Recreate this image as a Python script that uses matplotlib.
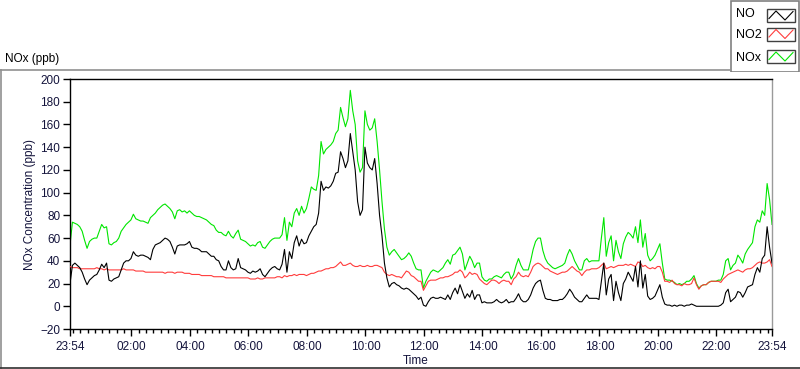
import numpy as np
import pandas as pd
import matplotlib
matplotlib.use("Agg")
import matplotlib.pyplot as plt
import matplotlib.dates as mdates
from matplotlib.lines import Line2D
from matplotlib.patches import Rectangle

# 5-minute samples from 23:54 to 23:54 next day (one row per hour)
no_ppb = [
    20, 36, 38, 36, 34, 30, 24, 19, 23, 25, 27, 28,
    32, 37, 34, 38, 23, 22, 24, 25, 26, 32, 38, 40,
    40, 42, 48, 45, 44, 45, 45, 44, 43, 41, 50, 54,
    55, 56, 58, 60, 59, 57, 52, 46, 53, 54, 54, 54,
    55, 57, 52, 51, 51, 50, 48, 48, 48, 46, 44, 44,
    41, 40, 35, 32, 32, 40, 34, 32, 33, 42, 34, 33,
    32, 30, 29, 31, 30, 31, 33, 28, 26, 29, 32, 34,
    35, 33, 32, 37, 50, 30, 48, 42, 56, 62, 53, 59,
    55, 56, 62, 66, 70, 72, 82, 110, 102, 105, 104, 106,
    110, 117, 118, 136, 130, 122, 128, 152, 136, 120, 92, 80,
    85, 140, 126, 122, 120, 130, 108, 80, 62, 38, 25, 17,
    20, 21, 19, 18, 16, 15, 16, 15, 13, 11, 9, 6,
    8, 1, 0, 4, 7, 8, 7, 7, 8, 7, 6, 10,
    6, 12, 16, 11, 19, 13, 7, 11, 8, 14, 6, 10,
    10, 3, 4, 3, 3, 3, 4, 6, 4, 3, 4, 6,
    3, 4, 4, 7, 11, 6, 4, 4, 6, 10, 16, 20,
    22, 23, 14, 7, 6, 6, 5, 5, 5, 6, 6, 8,
    11, 15, 12, 8, 6, 4, 4, 7, 10, 7, 7, 7,
    7, 6, 22, 38, 10, 24, 28, 5, 22, 12, 5, 20,
    24, 30, 26, 22, 35, 17, 40, 16, 28, 9, 6, 7,
    9, 14, 19, 8, 2, 1, 1, 0, 1, 0, 1, 1,
    0, 1, 1, 2, 1, 0, 0, 0, 0, 0, 0, 0,
    0, 0, 0, 1, 3, 12, 15, 4, 6, 8, 13, 12,
    8, 12, 17, 18, 19, 28, 34, 30, 42, 45, 70, 52,
    38]

no2_ppb = [
    35, 34, 34, 34, 33, 33, 33, 33, 33, 33, 33, 34,
    33, 33, 32, 33, 32, 32, 32, 32, 32, 32, 33, 32,
    32, 32, 32, 31, 31, 31, 31, 30, 30, 30, 30, 30,
    30, 30, 30, 29, 30, 30, 30, 29, 30, 30, 30, 29,
    29, 29, 28, 28, 28, 28, 27, 27, 27, 27, 27, 26,
    26, 26, 26, 26, 25, 25, 25, 25, 25, 25, 25, 25,
    25, 25, 24, 24, 24, 25, 24, 24, 25, 25, 25, 25,
    25, 26, 26, 25, 27, 26, 27, 27, 28, 27, 28, 28,
    28, 27, 28, 29, 29, 30, 31, 31, 32, 33, 33, 34,
    34, 35, 37, 39, 36, 36, 37, 38, 36, 35, 35, 36,
    35, 35, 36, 35, 35, 36, 36, 35, 34, 30, 28, 27,
    28, 27, 26, 26, 25, 28, 31, 30, 27, 26, 24, 22,
    22, 14, 18, 22, 23, 23, 23, 24, 25, 25, 26, 26,
    27, 28, 30, 30, 32, 30, 25, 27, 30, 28, 29, 28,
    24, 22, 20, 19, 21, 23, 23, 22, 20, 22, 23, 22,
    22, 19, 24, 26, 30, 27, 26, 27, 26, 30, 35, 37,
    38, 37, 35, 33, 33, 31, 30, 29, 28, 29, 30, 30,
    31, 33, 35, 33, 31, 30, 27, 30, 32, 32, 33, 33,
    33, 34, 36, 38, 33, 34, 35, 34, 35, 36, 36, 36,
    37, 36, 37, 36, 35, 39, 38, 35, 36, 34, 33, 34,
    33, 35, 35, 30, 22, 22, 21, 23, 20, 19, 19, 18,
    20, 19, 19, 20, 25, 19, 15, 18, 19, 19, 21, 22,
    22, 22, 22, 21, 24, 26, 28, 29, 30, 31, 32, 31,
    30, 32, 33, 33, 34, 36, 38, 39, 38, 38, 39, 41,
    35]

nox_ppb = [
    54, 74, 73, 72, 70, 66, 58, 51, 57, 59, 60, 60,
    66, 72, 69, 70, 55, 54, 56, 57, 60, 66, 69, 72,
    74, 76, 81, 77, 76, 75, 75, 74, 73, 78, 80, 82,
    85, 87, 89, 90, 88, 86, 83, 77, 84, 85, 83, 84,
    82, 84, 82, 80, 79, 79, 78, 77, 76, 74, 72, 71,
    67, 65, 65, 63, 62, 66, 62, 60, 64, 67, 59, 58,
    57, 55, 53, 54, 53, 56, 57, 52, 51, 54, 57, 59,
    60, 60, 60, 63, 78, 58, 74, 70, 82, 86, 80, 88,
    82, 86, 95, 105, 103, 102, 115, 145, 134, 138, 140, 142,
    145, 152, 155, 175, 166, 158, 165, 190, 172, 160, 128, 118,
    122, 172, 160, 155, 157, 165, 145, 120, 92, 68, 52, 45,
    48, 50, 47, 44, 41, 42, 44, 47, 44, 38, 33, 32,
    32, 16, 22, 26, 30, 32, 31, 30, 32, 34, 38, 41,
    37, 45, 46, 49, 52, 46, 32, 38, 44, 40, 34, 38,
    38, 26, 23, 22, 24, 24, 26, 27, 26, 25, 28, 30,
    30, 24, 28, 36, 42, 36, 32, 32, 32, 40, 50, 57,
    60, 60, 49, 42, 38, 36, 34, 33, 34, 35, 36, 38,
    45, 50, 46, 40, 36, 32, 32, 40, 42, 39, 40, 40,
    40, 40, 60, 78, 44, 56, 62, 40, 58, 48, 42, 55,
    61, 65, 63, 60, 70, 56, 76, 52, 64, 45, 40, 42,
    45, 50, 55, 38, 24, 23, 23, 22, 21, 19, 20, 19,
    20, 22, 22, 24, 27, 20, 16, 18, 19, 19, 21, 22,
    22, 22, 23, 23, 28, 40, 42, 32, 36, 38, 45, 42,
    38, 46, 50, 53, 56, 70, 76, 74, 84, 80, 108, 94,
    72]

series_names = ["NO", "NO2", "NOx"]
series_colors = ["black", "#ff3c3c", "#00e600"]
yticks = list(range(-20, 201, 20))

W, H = 800, 369
plt.rcParams['font.family'] = ['Liberation Sans', 'DejaVu Sans']
txt_col = "#14143c"

fig = plt.figure(figsize=(W / 100, H / 100), dpi=100)
fig.patch.set_facecolor("white")

def fx(x):
    return x / W

def fy(y):
    return 1 - y / H

ax = fig.add_axes([fx(70), fy(329), fx(772) - fx(70), fy(79) - fy(329)])

times = pd.date_range("2000-01-01 23:54", periods=len(no_ppb), freq="5min")
values = [no_ppb, no2_ppb, nox_ppb]
# draw NOx underneath, NO on top
for i in [2, 1, 0]:
    ax.plot(times, values[i], color=series_colors[i], lw=0.8, zorder=2 + (2 - i))

ax.set_xlim(times[0], times[-1])
ax.set_ylim(-20, 200)
ax.set_yticks(yticks)

major = [times[0]] + list(pd.date_range("2000-01-02 02:00", "2000-01-02 22:00", freq="2h")) + [times[-1]]
minor = list(pd.date_range("2000-01-02 00:00", "2000-01-02 23:45", freq="15min"))
ax.xaxis.set_major_locator(matplotlib.ticker.FixedLocator(mdates.date2num(major)))
ax.xaxis.set_minor_locator(matplotlib.ticker.FixedLocator(mdates.date2num(minor)))
ax.xaxis.set_major_formatter(mdates.DateFormatter("%H:%M"))

ax.tick_params(axis="both", which="major", direction="out", length=5, width=1,
               labelsize=8.5, labelcolor=txt_col, pad=2)
ax.tick_params(axis="x", which="minor", direction="out", length=3, width=1)
ax.tick_params(axis="x", which="major", pad=4)

for s in ["left", "top", "bottom"]:
    ax.spines[s].set_color("black")
    ax.spines[s].set_linewidth(1)
ax.spines["right"].set_color("#9a9a9a")
ax.spines["right"].set_linewidth(1)

ax.set_ylabel("NOx Concentration (ppb)", fontsize=8.5, color=txt_col)
ax.yaxis.set_label_coords(-0.048, 0.5)
ax.set_xlabel("Time", fontsize=8.5, color=txt_col)
ax.xaxis.set_label_coords(0.493, -0.105)

# chart title and outer frame
fig.text(fx(5), fy(59), "NOx (ppb)", fontsize=8.5, color="black", va="center", ha="left")
fig.add_artist(Line2D([fx(0), fx(730)], [fy(69.5), fy(69.5)], color="#909090", lw=1.2))
fig.add_artist(Line2D([fx(0.7), fx(0.7)], [fy(69.5), fy(368)], color="#909090", lw=1.2))
fig.add_artist(Line2D([fx(0), fx(800)], [fy(368), fy(368)], color="#303030", lw=1.2))

# legend box in the top right corner
lax = fig.add_axes([fx(730), fy(72), fx(799.5) - fx(730), fy(0) - fy(72)])
lax.set_xlim(730, 799.5)
lax.set_ylim(72, 0)
lax.axis("off")
lax.add_patch(Rectangle((730.5, 0.5), 68.5, 71, fill=False, edgecolor="#808080", lw=1.2))
text_y = [14, 35, 58]
box_y = [15.5, 34, 56.5]
for name, col, ty, yc in zip(series_names, series_colors, text_y, box_y):
    lax.text(736, ty, name, fontsize=9, va="center", ha="left", color="black")
    lax.add_patch(Rectangle((767, yc - 6.5), 28, 13, fill=False, edgecolor="#404040", lw=1))
    zx = [769, 776, 785, 793]
    zy = [yc + 3, yc - 4.5, yc + 4.5, yc - 4]
    lax.plot(zx, zy, color=col, lw=0.8)

fig.savefig("out.png", dpi=100, facecolor="white")
